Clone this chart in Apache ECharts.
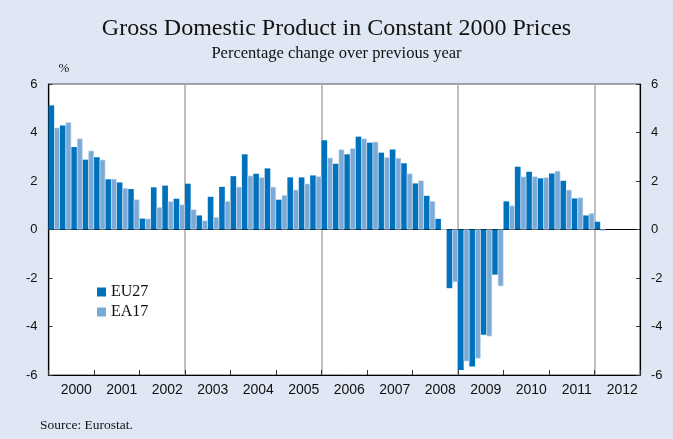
<!DOCTYPE html>
<html>
<head>
<meta charset="utf-8">
<script src="https://cdn.jsdelivr.net/npm/echarts@6/dist/echarts.min.js"></script>
<style>
html, body { margin: 0; padding: 0; background: #e0e7f4; }
#chart { width: 673px; height: 439px; }
</style>
</head>
<body>
<div id="chart"></div>
<script>
// quarters 2000Q1 .. 2012Q4, yoy % change
var years = ["2000", "2001", "2002", "2003", "2004", "2005", "2006", "2007", "2008", "2009", "2010", "2011", "2012"];
var eu27 = [
	5.12, 4.29, 3.40, 2.88,   2.98, 2.07, 1.94, 1.67,   0.45, 1.74, 1.81, 1.27,
	1.89, 0.58, 1.35, 1.76,   2.20, 3.10, 2.30, 2.52,   1.23, 2.15, 2.15, 2.23,
	3.68, 2.71, 3.10, 3.83,   3.58, 3.17, 3.30, 2.73,   1.90, 1.39, 0.44, -2.42,
	-5.79, -5.65, -4.34, -1.86, 1.16, 2.59, 2.38, 2.11, 2.31, 2.01, 1.28, 0.58,
	0.32, null, null, null
];
var ea17 = [
	4.20, 4.42, 3.75, 3.25,   2.88, 2.09, 1.71, 1.24,   0.45, 0.92, 1.16, 1.03,
	0.83, 0.37, 0.51, 1.17,   1.76, 2.22, 2.15, 1.76,   1.42, 1.64, 1.89, 2.19,
	2.96, 3.30, 3.35, 3.75,   3.62, 2.98, 2.95, 2.31,   2.02, 1.17, 0.0, -2.17,
	-5.44, -5.32, -4.41, -2.34, 0.99, 2.18, 2.19, 2.15, 2.42, 1.64, 1.32, 0.67,
	-0.05, null, null, null
];
var quarters = [];
for (var i = 0; i < years.length; i++) {
	for (var q = 1; q <= 4; q++) quarters.push(years[i] + "Q" + q);
}

var myChart = echarts.init(document.getElementById('chart'));
var serif = "'Liberation Serif', 'DejaVu Serif', serif";
var sans = "'Liberation Sans', Arial, sans-serif";

var option = {
	backgroundColor: '#e0e7f4',
	animation: false,
	title: [{
		text: 'Gross Domestic Product in Constant 2000 Prices',
		left: 'center',
		top: 12,
		textStyle: { fontFamily: serif, fontSize: 24, fontWeight: 'normal', color: '#111' }
	}, {
		text: 'Percentage change over previous year',
		left: 'center',
		top: 40,
		textStyle: { fontFamily: serif, fontSize: 16.5, fontWeight: 'normal', color: '#111' }
	}, {
		text: 'Source: Eurostat.',
		left: 35,
		top: 413,
		textStyle: { fontFamily: serif, fontSize: 13.5, fontWeight: 'normal', color: '#111' }
	}],
	legend: {
		orient: 'vertical',
		left: 92,
		top: 279,
		itemWidth: 9,
		itemHeight: 9,
		itemGap: 4,
		icon: 'rect',
		itemStyle: { borderWidth: 0 },
		textStyle: { fontFamily: serif, fontSize: 16, color: '#111' },
		data: ['EU27', 'EA17']
	},
	grid: {
		left: 48.5, right: 33, top: 84, bottom: 64,
		show: true,
		backgroundColor: '#fff',
		borderColor: '#555',
		borderWidth: 1
	},
	xAxis: [{
		type: 'category',
		data: quarters,
		boundaryGap: true,
		axisLine: { onZero: true, lineStyle: { color: '#000', width: 1.2 } },
		axisTick: { show: false },
		axisLabel: { show: false },
		splitLine: { show: false }
	}, {
		type: 'category',
		data: years,
		position: 'bottom',
		boundaryGap: true,
		axisLine: { onZero: false, lineStyle: { color: '#000', width: 1.2 } },
		axisTick: { show: true, inside: true, length: 5, interval: 0, lineStyle: { color: '#333' } },
		axisLabel: { fontFamily: sans, fontSize: 14, color: '#111', margin: 8, padding: [0, 0, 0, 10], interval: 0 },
		splitLine: { show: true, interval: 2, lineStyle: { color: '#aaa', width: 1.5 } }
	}],
	yAxis: [{
		type: 'value',
		min: -6, max: 6, interval: 2,
		position: 'left',
		name: '%',
		nameLocation: 'end',
		nameGap: 9,
		nameTextStyle: { fontFamily: serif, fontSize: 13, color: '#111', align: 'left', padding: [0, 0, 0, 10] },
		axisLine: { show: true, lineStyle: { color: '#000', width: 1.2 } },
		axisTick: { show: true, inside: true, length: 4, lineStyle: { color: '#333' } },
		axisLabel: { fontFamily: sans, fontSize: 13, color: '#111', margin: 11 },
		splitLine: { show: false }
	}, {
		type: 'value',
		min: -6, max: 6, interval: 2,
		position: 'right',
		axisLine: { show: true, lineStyle: { color: '#000', width: 1.2 } },
		axisTick: { show: true, inside: true, length: 4, lineStyle: { color: '#333' } },
		axisLabel: { fontFamily: sans, fontSize: 13, color: '#111', margin: 11 },
		splitLine: { show: false }
	}],
	series: [{
		name: 'EU27',
		type: 'bar',
		xAxisIndex: 0,
		yAxisIndex: 0,
		data: eu27,
		barGap: '0%',
		barCategoryGap: '0%',
		itemStyle: { color: '#0071bd' }
	}, {
		name: 'EA17',
		type: 'bar',
		xAxisIndex: 0,
		yAxisIndex: 0,
		data: ea17,
		barGap: '0%',
		barCategoryGap: '0%',
		itemStyle: { color: '#7baad6', borderColor: '#c6dbef', borderWidth: 0.6 }
	}]
};

myChart.setOption(option);
</script>
</body>
</html>
